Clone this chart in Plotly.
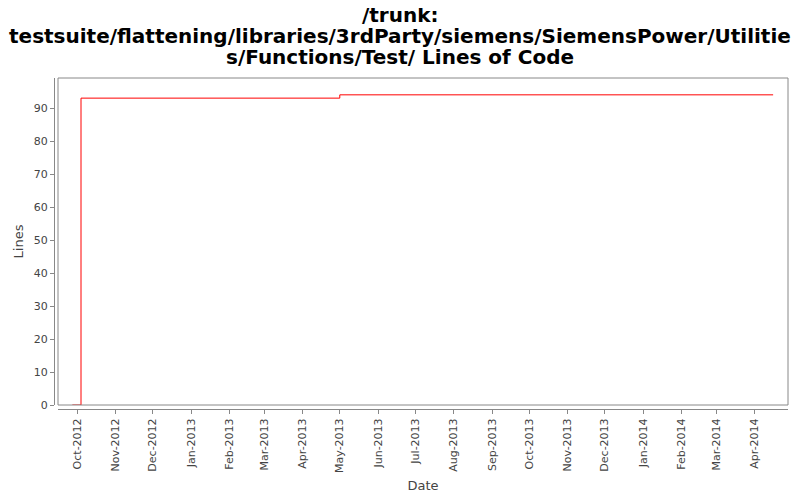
import plotly.graph_objects as go

# lines of code over time (step series)
dates = ["2012-09-27", "2012-10-04", "2013-05-01", "2014-04-16"]
lines = [0, 93, 94, 94]

title_lines = [
    "/trunk:",
    "testsuite/flattening/libraries/3rdParty/siemens/SiemensPower/Utilitie",
    "s/Functions/Test/ Lines of Code",
]

# the page adds an 8px body margin, so the figure is a bit smaller than the window
W, H = 792, 492
ml, mr, mt, mb = 32, 12, 70, 80
pw = W - ml - mr
ph = H - mt - mb


def px_to_paper(xp, yp):
    return (xp - ml) / pw, (H - mb - yp) / ph


fig = go.Figure(go.Scatter(
    x=dates, y=lines, mode="lines", line_shape="hv",
    line=dict(color="#ff0000", width=1), showlegend=False
))

tick_font = dict(family="DejaVu Sans", size=11, color="#444444")
label_font = dict(family="DejaVu Sans", size=13, color="#444444")

fig.update_layout(
    width=W, height=H,
    margin=dict(l=ml, r=mr, t=mt, b=mb, autoexpand=False),
    paper_bgcolor="white", plot_bgcolor="white",
    xaxis=dict(
        domain=[18 / pw, 1], anchor="free", position=11 / ph, automargin=False,
        type="date", range=["2012-09-15 10:00", "2014-04-28"],
        dtick="M1", tick0="2012-10-01", tickformat="%b-%Y", tickangle=-90,
        ticks="outside", ticklen=4, tickcolor="#888888",
        showline=True, linecolor="#888888", linewidth=1,
        showgrid=False, zeroline=False, tickfont=tick_font,
        title=dict(text="Date", font=label_font, standoff=8),
    ),
    yaxis=dict(
        domain=[15 / ph, 1], anchor="free", position=14 / pw, automargin=False,
        range=[0, 99.1], dtick=10, tick0=0,
        ticks="outside", ticklen=4, tickcolor="#888888",
        showline=True, linecolor="#888888", linewidth=1,
        showgrid=False, zeroline=False, tickfont=tick_font,
        title=dict(text="Lines", font=label_font, standoff=6),
    ),
)

# title as three separate lines (tighter spacing than plotly's own line height)
for i, txt in enumerate(title_lines):
    tx, ty = px_to_paper(392, 7 + 21 * i)
    fig.add_annotation(text=txt, xref="paper", yref="paper", x=tx, y=ty,
                       xanchor="center", yanchor="middle", showarrow=False,
                       font=dict(family="DejaVu Sans", size=20, color="black", weight="bold"))

# plot frame
fig.add_shape(type="rect", xref="x domain", yref="y domain", x0=0, x1=1, y0=0, y1=1,
              line=dict(color="#888888", width=1), layer="above")

fig.write_html("out.html")
